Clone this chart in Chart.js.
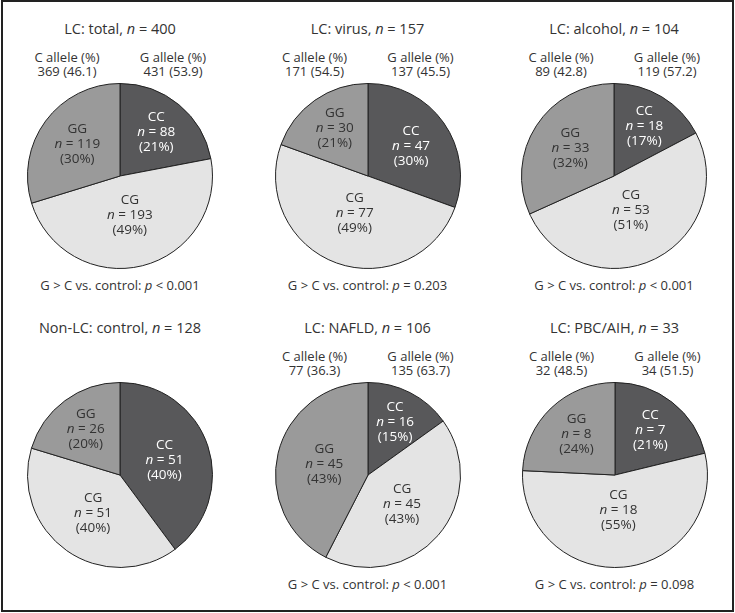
<!DOCTYPE html>
<html>
<head>
<meta charset="utf-8">
<script src="https://cdn.jsdelivr.net/npm/chart.js@4.4.1/dist/chart.umd.min.js"></script>
<style>
  html, body { margin: 0; padding: 0; background: #fff; }
  #fig { position: relative; width: 735px; height: 613px; font-family: "Open Sans", sans-serif; color: #333; }
  #frame { position: absolute; left: 1px; top: 0px; width: 729px; height: 608px; border: 2px solid #222; }
  .txt { position: absolute; white-space: nowrap; transform: translateX(-50%); text-align: center; }
  .title { font-size: 14.5px; line-height: 18px; }
  .small { font-size: 13px; line-height: 14px; }
  canvas { position: absolute; }
</style>
</head>
<body>
<div id="fig"><div id="frame"></div></div>
<script>
// genotype categories, clockwise from 12 o'clock
var genotypes = ['CC', 'CG', 'GG'];

// panel titles and total n
var groupNames = ['LC: total', 'LC: virus', 'LC: alcohol', 'Non-LC: control', 'LC: NAFLD', 'LC: PBC/AIH'];
var groupN = [400, 157, 104, 128, 106, 33];

// genotype counts per panel [CC, CG, GG]
var countsTotal = [88, 193, 119];
var countsVirus = [47, 77, 30];
var countsAlcohol = [18, 53, 33];
var countsControl = [51, 51, 26];
var countsNafld = [16, 45, 45];
var countsPbc = [7, 18, 8];

// percentage labels as printed
var pctTotal = [21, 49, 30];
var pctVirus = [30, 49, 21];
var pctAlcohol = [17, 51, 32];
var pctControl = [40, 40, 20];
var pctNafld = [15, 43, 43];
var pctPbc = [21, 55, 24];

// allele counts (%) : C, G  (null = not shown)
var cAllele = ['369 (46.1)', '171 (54.5)', '89 (42.8)', null, '77 (36.3)', '32 (48.5)'];
var gAllele = ['431 (53.9)', '137 (45.5)', '119 (57.2)', null, '135 (63.7)', '34 (51.5)'];

// G > C vs control
var pCompare = ['< 0.001', '= 0.203', '< 0.001', null, '< 0.001', '= 0.098'];

var allCounts = [countsTotal, countsVirus, countsAlcohol, countsControl, countsNafld, countsPbc];
var allPct = [pctTotal, pctVirus, pctAlcohol, pctControl, pctNafld, pctPbc];

var sliceColors = ['#58585a', '#e4e4e4', '#9a9a9a'];
var labelColors = ['#ffffff', '#333333', '#333333'];

var centers = [[120, 176], [367.5, 176], [614, 176], [120, 474.5], [367.5, 474.5], [614.5, 474.5]];
var size = 190;
var fig = document.getElementById('fig');

function addText(html, cls, x, y) {
  var d = document.createElement('div');
  d.className = 'txt ' + cls;
  d.innerHTML = html;
  d.style.left = x + 'px';
  d.style.top = y + 'px';
  fig.appendChild(d);
}

// draws "CC / n = 88 / (21%)" at the centroid of each sector
var sliceLabels = {
  id: 'sliceLabels',
  afterDatasetsDraw: function (chart) {
    var ctx = chart.ctx;
    var meta = chart.getDatasetMeta(0);
    var pct = chart.options.plugins.sliceLabels.pct;
    var vals = chart.data.datasets[0].data;
    var f = '13.5px "Open Sans"';
    meta.data.forEach(function (arc, i) {
      var p = arc.getProps(['x', 'y', 'startAngle', 'endAngle', 'outerRadius'], true);
      var half = (p.endAngle - p.startAngle) / 2;
      var mid = p.startAngle + half;
      var d = 2 * p.outerRadius * Math.sin(half) / (3 * half);
      var cx = p.x + Math.cos(mid) * d;
      var cy = p.y + Math.sin(mid) * d;
      ctx.save();
      ctx.fillStyle = labelColors[i];
      ctx.textBaseline = 'middle';
      ctx.textAlign = 'center';
      ctx.font = f;
      ctx.fillText(chart.data.labels[i], cx, cy - 15);
      ctx.fillText('(' + pct[i] + '%)', cx, cy + 15);
      // n line with italic n
      ctx.font = 'italic ' + f;
      var w1 = ctx.measureText('n').width;
      ctx.font = f;
      var rest = ' = ' + vals[i];
      var w2 = ctx.measureText(rest).width;
      var x0 = cx - (w1 + w2) / 2;
      ctx.textAlign = 'left';
      ctx.font = 'italic ' + f;
      ctx.fillText('n', x0, cy);
      ctx.font = f;
      ctx.fillText(rest, x0 + w1, cy);
      ctx.restore();
    });
  }
};

centers.forEach(function (c, k) {
  var cv = document.createElement('canvas');
  cv.width = size; cv.height = size;
  cv.style.left = (c[0] - size / 2) + 'px';
  cv.style.top = (c[1] - size / 2) + 'px';
  cv.style.width = size + 'px';
  cv.style.height = size + 'px';
  fig.appendChild(cv);

  new Chart(cv.getContext('2d'), {
    type: 'pie',
    data: {
      labels: genotypes,
      datasets: [{
        data: allCounts[k],
        backgroundColor: sliceColors,
        borderColor: '#222',
        borderWidth: 1
      }]
    },
    options: {
      responsive: false,
      animation: false,
      layout: { padding: 2 },
      plugins: {
        legend: { display: false },
        tooltip: { enabled: false },
        sliceLabels: { pct: allPct[k] }
      }
    },
    plugins: [sliceLabels]
  });

  var rowTop = k < 3 ? 0 : 298.5;
  addText(groupNames[k] + ', <i>n</i> = ' + groupN[k], 'title', c[0], rowTop + 20);
  if (cAllele[k]) {
    addText('C allele (%)<br>' + cAllele[k], 'small', c[0] - 53, rowTop + 50);
    addText('G allele (%)<br>' + gAllele[k], 'small', c[0] + 53, rowTop + 50);
  }
  if (pCompare[k]) {
    addText('G &gt; C vs. control: <i>p</i> ' + pCompare[k].replace('<', '&lt;'), 'small', c[0], rowTop + 278);
  }
});
</script>
</body>
</html>
